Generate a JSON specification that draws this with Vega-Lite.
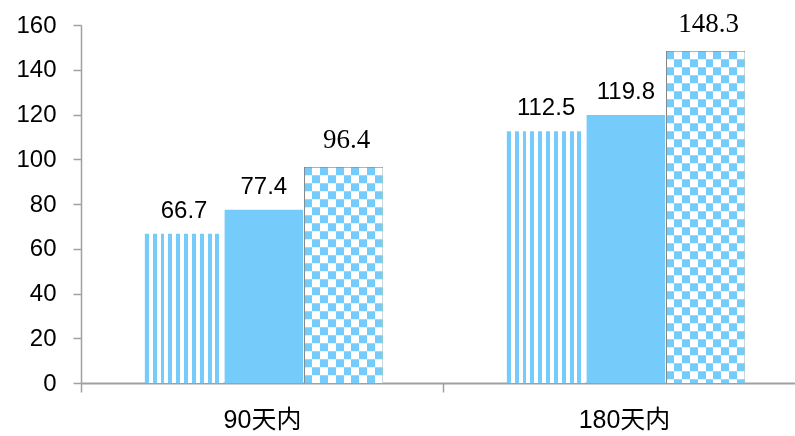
{
  "$schema": "https://vega.github.io/schema/vega-lite/v6.json",
  "width": 724,
  "height": 358,
  "autosize": {"type": "none"},
  "padding": {"left": 81, "top": 25, "right": 0, "bottom": 53},
  "background": "white",
  "config": {"view": {"stroke": null}},
  "data": {"values": [
    {"cat": "90天内", "s": "A", "v": 66.7},
    {"cat": "90天内", "s": "B", "v": 77.4},
    {"cat": "90天内", "s": "C", "v": 96.4},
    {"cat": "180天内", "s": "A", "v": 112.5},
    {"cat": "180天内", "s": "B", "v": 119.8},
    {"cat": "180天内", "s": "C", "v": 148.3}
  ]},
  "encoding": {
    "x": {"field": "cat", "type": "nominal", "sort": ["90天内", "180天内"],
      "scale": {"paddingInner": 0, "paddingOuter": 0},
      "axis": {"title": null, "labelAngle": 0, "labelFont": "Liberation Sans, Noto Sans CJK SC", "labelFontSize": 25, "labelColor": "#000000", "labelPadding": 15, "tickBand": "extent", "tickSize": 9, "tickColor": "#a0a0a0", "tickWidth": 1.5, "domainColor": "#a0a0a0", "domainWidth": 2, "grid": false}},
    "xOffset": {"field": "s", "type": "nominal", "scale": {"domain": ["A", "B", "C"], "paddingInner": 0.016, "paddingOuter": 0.777, "align": 0.515}},
    "y": {"field": "v", "type": "quantitative", "scale": {"domain": [0, 160], "nice": false},
      "axis": {"title": null, "values": [0, 20, 40, 60, 80, 100, 120, 140, 160], "labelFont": "Liberation Sans", "labelFontSize": 24, "labelColor": "#000000", "labelPadding": 17, "tickSize": 8, "tickColor": "#a0a0a0", "tickWidth": 1.5, "domainColor": "#a0a0a0", "domainWidth": 1.5, "grid": false}}
  },
  "layer": [
    {"transform": [{"filter": "datum.s === 'A'"}],
     "mark": {"type": "bar", "fill": {"gradient": "linear", "x1": 0, "x2": 1, "y1": 0, "y2": 0, "stops": [
       {"offset": 0, "color": "#75CBF9"}, {"offset": 0.05, "color": "#75CBF9"}, {"offset": 0.05, "color": "#ffffff"}, {"offset": 0.1, "color": "#ffffff"},
       {"offset": 0.1, "color": "#75CBF9"}, {"offset": 0.15, "color": "#75CBF9"}, {"offset": 0.15, "color": "#ffffff"}, {"offset": 0.2, "color": "#ffffff"},
       {"offset": 0.2, "color": "#75CBF9"}, {"offset": 0.25, "color": "#75CBF9"}, {"offset": 0.25, "color": "#ffffff"}, {"offset": 0.3, "color": "#ffffff"},
       {"offset": 0.3, "color": "#75CBF9"}, {"offset": 0.35, "color": "#75CBF9"}, {"offset": 0.35, "color": "#ffffff"}, {"offset": 0.4, "color": "#ffffff"},
       {"offset": 0.4, "color": "#75CBF9"}, {"offset": 0.45, "color": "#75CBF9"}, {"offset": 0.45, "color": "#ffffff"}, {"offset": 0.5, "color": "#ffffff"},
       {"offset": 0.5, "color": "#75CBF9"}, {"offset": 0.55, "color": "#75CBF9"}, {"offset": 0.55, "color": "#ffffff"}, {"offset": 0.6, "color": "#ffffff"},
       {"offset": 0.6, "color": "#75CBF9"}, {"offset": 0.65, "color": "#75CBF9"}, {"offset": 0.65, "color": "#ffffff"}, {"offset": 0.7, "color": "#ffffff"},
       {"offset": 0.7, "color": "#75CBF9"}, {"offset": 0.75, "color": "#75CBF9"}, {"offset": 0.75, "color": "#ffffff"}, {"offset": 0.8, "color": "#ffffff"},
       {"offset": 0.8, "color": "#75CBF9"}, {"offset": 0.85, "color": "#75CBF9"}, {"offset": 0.85, "color": "#ffffff"}, {"offset": 0.9, "color": "#ffffff"},
       {"offset": 0.9, "color": "#75CBF9"}, {"offset": 0.95, "color": "#75CBF9"}, {"offset": 0.95, "color": "#ffffff"}, {"offset": 1, "color": "#ffffff"}
     ]}}},
    {"transform": [{"filter": "datum.s === 'B'"}],
     "mark": {"type": "bar", "fill": "#75CBF9"}},
    {"transform": [{"filter": "datum.s === 'C'"}],
     "mark": {"type": "bar", "fill": "#000000"}},
    {"transform": [{"filter": "datum.s === 'C'"}],
     "mark": {"type": "rule", "stroke": "#8A3406", "strokeWidth": 78.5, "strokeDash": [8, 8], "strokeCap": "butt"},
     "encoding": {"y2": {"datum": 0}}},
    {"transform": [{"filter": "datum.s === 'C'"}],
     "mark": {"type": "bar", "blend": "difference", "fill": {"gradient": "linear", "x1": 0, "x2": 1, "y1": 0, "y2": 0, "stops": [
       {"offset": 0, "color": "#000000"}, {"offset": 0.1, "color": "#000000"}, {"offset": 0.1, "color": "#8A3406"}, {"offset": 0.2, "color": "#8A3406"},
       {"offset": 0.2, "color": "#000000"}, {"offset": 0.3, "color": "#000000"}, {"offset": 0.3, "color": "#8A3406"}, {"offset": 0.4, "color": "#8A3406"},
       {"offset": 0.4, "color": "#000000"}, {"offset": 0.5, "color": "#000000"}, {"offset": 0.5, "color": "#8A3406"}, {"offset": 0.6, "color": "#8A3406"},
       {"offset": 0.6, "color": "#000000"}, {"offset": 0.7, "color": "#000000"}, {"offset": 0.7, "color": "#8A3406"}, {"offset": 0.8, "color": "#8A3406"},
       {"offset": 0.8, "color": "#000000"}, {"offset": 0.9, "color": "#000000"}, {"offset": 0.9, "color": "#8A3406"}, {"offset": 1, "color": "#8A3406"}
     ]}}},
    {"transform": [{"filter": "datum.s === 'C'"}],
     "mark": {"type": "bar", "blend": "difference", "fill": "#ffffff"}},
    {"transform": [{"filter": "datum.s !== 'C'"}],
     "mark": {"type": "text", "dy": -16, "baseline": "alphabetic", "font": "Liberation Sans", "fontSize": 24, "color": "#000000"},
     "encoding": {"text": {"field": "v", "type": "quantitative", "format": ".1f"}}},
    {"transform": [{"filter": "datum.s === 'C'"}],
     "mark": {"type": "text", "dy": -19, "dx": 3, "baseline": "alphabetic", "font": "Liberation Serif", "fontSize": 27, "color": "#000000"},
     "encoding": {"text": {"field": "v", "type": "quantitative", "format": ".1f"}}}
  ]
}
